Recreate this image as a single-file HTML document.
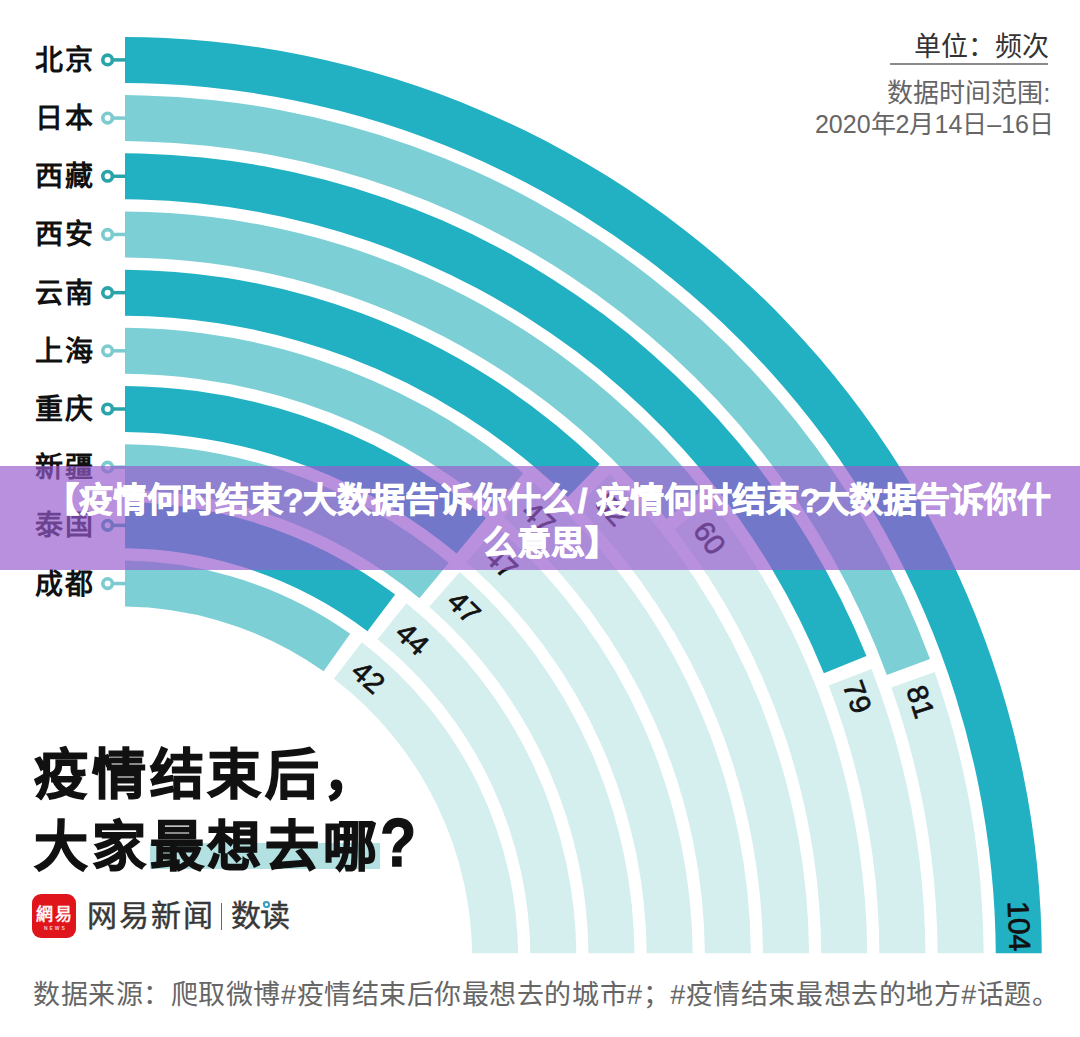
<!DOCTYPE html>
<html lang="zh-CN"><head><meta charset="utf-8">
<style>
html,body{margin:0;padding:0;background:#fff;}
body{width:1080px;height:1037px;position:relative;overflow:hidden;font-family:"Liberation Sans",sans-serif;}
svg{position:absolute;left:0;top:0;}
.num{font-family:"Liberation Sans",sans-serif;font-size:29px;fill:#111;dominant-baseline:central;stroke:#111;stroke-width:0.7px;}
.lab{font-family:"Liberation Sans",sans-serif;font-size:28px;font-weight:700;fill:#111;dominant-baseline:central;letter-spacing:2px;}
.unit{position:absolute;right:31.5px;top:29px;font-size:27px;color:#333;line-height:36px;white-space:nowrap;}
.uline{position:absolute;left:890px;width:158px;top:63px;height:2px;background:#8a8a8a;}
.range{position:absolute;font-size:26px;color:#666;line-height:33px;text-align:right;white-space:nowrap;}
.r1{right:29.5px;top:76.5px;}
.r2{right:26px;top:108px;font-size:25px;}
.title{position:absolute;left:34px;top:739px;font-size:54px;font-weight:900;color:#111;line-height:72px;letter-spacing:3.8px;white-space:nowrap;-webkit-text-stroke:1.3px #111;}
.q{font-size:69px;letter-spacing:0;line-height:0;display:inline-block;transform:scaleX(0.86);transform-origin:0 0;margin-left:-1px;}
.hl{position:absolute;left:149.5px;top:842.5px;width:230.5px;height:26.5px;background:#b3e0e0;}
.logo{position:absolute;left:32.4px;top:894px;width:44px;height:44px;border-radius:9px;background:#e0141b;overflow:hidden;}
.logo .c{position:absolute;left:1px;width:44px;top:11px;text-align:center;color:#fff5f5;font-size:17px;font-weight:700;line-height:20px;letter-spacing:2px;white-space:nowrap;}
.logo .n{position:absolute;left:1px;width:44px;top:31px;text-align:center;color:#f6c9c9;font-size:5px;font-weight:700;line-height:6px;letter-spacing:2px;white-space:nowrap;}
.brand{position:absolute;left:87px;top:895.5px;font-size:30px;color:#383838;line-height:40px;letter-spacing:2px;-webkit-text-stroke:0.45px #383838;white-space:nowrap;}
.sep{position:absolute;left:220.5px;top:903px;width:1.6px;height:27px;background:#666;}
.brand2{position:absolute;left:231px;top:895.5px;font-size:30px;color:#383838;line-height:40px;letter-spacing:-1px;-webkit-text-stroke:0.45px #383838;white-space:nowrap;}
.dot{position:absolute;left:262.5px;top:900.5px;width:7px;height:7px;border-radius:50%;background:#fff;border:2px solid #3a9fc8;box-sizing:border-box;}
.src{position:absolute;left:33px;top:975px;font-size:27px;letter-spacing:0.55px;color:#666;line-height:40px;white-space:nowrap;}
.banner{position:absolute;left:0;top:466px;width:1080px;height:104px;background:rgba(152,92,205,0.68);}
.btext{position:absolute;left:44.7px;top:478.5px;color:#fff;font-size:34px;font-weight:700;line-height:43px;white-space:nowrap;-webkit-text-stroke:0.8px #fff;}
.btext .l2{padding-left:438.7px;}
.sl{margin:0 8.5px 0 2.5px;}
.q2{margin-right:-5px;}
.cm{letter-spacing:-0.5px;}
</style></head><body>
<svg width="1080" height="1037" viewBox="0 0 1080 1037">
<defs><clipPath id="cp"><rect x="125" y="0" width="955" height="953.3"/></clipPath></defs>
<g clip-path="url(#cp)">
<path d="M71.97,38.16 A921.60,921.60 0 0 1 1041.80,958.31 L995.80,958.32 A875.60,875.60 0 0 0 74.37,84.10 Z" fill="#22b1c3"/>
<path d="M934.74,672.12 A863.42,863.42 0 0 1 983.49,973.57 L937.50,972.77 A817.42,817.42 0 0 0 891.35,687.38 Z" fill="#d5eeee"/>
<path d="M75.01,96.26 A863.42,863.42 0 0 1 930.00,658.98 L886.86,674.93 A817.42,817.42 0 0 0 77.42,142.20 Z" fill="#7dcfd6"/>
<path d="M871.62,669.06 A805.24,805.24 0 0 1 925.32,972.55 L879.32,971.75 A759.24,759.24 0 0 0 828.70,685.60 Z" fill="#d5eeee"/>
<path d="M78.06,154.36 A805.24,805.24 0 0 1 866.48,656.04 L823.85,673.32 A759.24,759.24 0 0 0 80.46,200.30 Z" fill="#22b1c3"/>
<path d="M710.94,501.20 A747.06,747.06 0 0 1 867.15,971.54 L821.15,970.74 A701.06,701.06 0 0 0 674.57,529.36 Z" fill="#d5eeee"/>
<path d="M81.10,212.46 A747.06,747.06 0 0 1 702.25,490.19 L666.41,519.02 A701.06,701.06 0 0 0 83.51,258.40 Z" fill="#7dcfd6"/>
<path d="M609.81,473.90 A688.88,688.88 0 0 1 808.98,970.52 L762.98,969.72 A642.88,642.88 0 0 0 577.11,506.26 Z" fill="#d5eeee"/>
<path d="M84.15,270.56 A688.88,688.88 0 0 1 599.81,464.00 L567.78,497.02 A642.88,642.88 0 0 0 86.55,316.50 Z" fill="#22b1c3"/>
<path d="M533.95,482.48 A630.70,630.70 0 0 1 750.80,969.51 L704.81,968.70 A584.70,584.70 0 0 0 503.77,517.20 Z" fill="#d5eeee"/>
<path d="M87.19,328.66 A630.70,630.70 0 0 1 523.19,473.34 L493.80,508.72 A584.70,584.70 0 0 0 89.60,374.60 Z" fill="#7dcfd6"/>
<path d="M496.80,527.28 A572.52,572.52 0 0 1 692.63,968.49 L646.64,967.69 A526.52,526.52 0 0 0 466.54,561.93 Z" fill="#d5eeee"/>
<path d="M90.24,386.76 A572.52,572.52 0 0 1 486.01,518.09 L456.62,553.48 A526.52,526.52 0 0 0 92.64,432.70 Z" fill="#22b1c3"/>
<path d="M459.66,572.09 A514.34,514.34 0 0 1 634.46,967.48 L588.47,966.67 A468.34,468.34 0 0 0 429.30,606.65 Z" fill="#d5eeee"/>
<path d="M93.28,444.86 A514.34,514.34 0 0 1 448.84,562.85 L419.45,598.23 A468.34,468.34 0 0 0 95.69,490.80 Z" fill="#7dcfd6"/>
<path d="M406.45,603.33 A456.16,456.16 0 0 1 576.29,966.46 L530.30,965.66 A410.16,410.16 0 0 0 377.58,639.15 Z" fill="#d5eeee"/>
<path d="M96.33,502.97 A456.16,456.16 0 0 1 395.16,594.52 L367.43,631.22 A410.16,410.16 0 0 0 98.73,548.90 Z" fill="#22b1c3"/>
<path d="M361.82,642.26 A397.98,397.98 0 0 1 518.12,965.45 L472.13,964.64 A351.98,351.98 0 0 0 333.90,678.81 Z" fill="#d5eeee"/>
<path d="M99.37,561.07 A397.98,397.98 0 0 1 350.20,633.71 L323.61,671.25 A351.98,351.98 0 0 0 101.78,607.00 Z" fill="#7dcfd6"/>
</g>
<text x="1019.22" y="926.16" transform="rotate(87.94 1019.22 926.16)" class="num" style="font-size:30px" text-anchor="middle">104</text>
<text x="920.41" y="701.64" transform="rotate(72.20 920.41 701.64)" class="num" text-anchor="middle">81</text>
<text x="857.41" y="696.93" transform="rotate(70.46 857.41 696.93)" class="num" text-anchor="middle">79</text>
<text x="709.58" y="537.91" transform="rotate(54.49 709.58 537.91)" class="num" text-anchor="middle">60</text>
<text x="611.65" y="509.20" transform="rotate(47.57 611.65 509.20)" class="num" text-anchor="middle">52</text>
<text x="538.55" y="517.72" transform="rotate(43.50 538.55 517.72)" class="num" text-anchor="middle">47</text>
<text x="501.28" y="562.58" transform="rotate(43.91 501.28 562.58)" class="num" text-anchor="middle">47</text>
<text x="463.98" y="607.46" transform="rotate(44.40 463.98 607.46)" class="num" text-anchor="middle">47</text>
<text x="412.49" y="638.83" transform="rotate(42.44 412.49 638.83)" class="num" text-anchor="middle">44</text>
<text x="368.26" y="677.29" transform="rotate(41.42 368.26 677.29)" class="num" text-anchor="middle">42</text>
<line x1="112" y1="59.91" x2="126" y2="59.91" stroke="#2aa3a9" stroke-width="3.5"/>
<circle cx="107.6" cy="59.91" r="4.8" fill="#fff" stroke="#2aa3a9" stroke-width="3.6"/>
<text x="35" y="60.41" class="lab" text-anchor="start">北京</text>
<line x1="112" y1="118.09" x2="126" y2="118.09" stroke="#7ccbd0" stroke-width="3.5"/>
<circle cx="107.6" cy="118.09" r="4.8" fill="#fff" stroke="#7ccbd0" stroke-width="3.6"/>
<text x="35" y="118.59" class="lab" text-anchor="start">日本</text>
<line x1="112" y1="176.27" x2="126" y2="176.27" stroke="#2aa3a9" stroke-width="3.5"/>
<circle cx="107.6" cy="176.27" r="4.8" fill="#fff" stroke="#2aa3a9" stroke-width="3.6"/>
<text x="35" y="176.77" class="lab" text-anchor="start">西藏</text>
<line x1="112" y1="234.46" x2="126" y2="234.46" stroke="#7ccbd0" stroke-width="3.5"/>
<circle cx="107.6" cy="234.46" r="4.8" fill="#fff" stroke="#7ccbd0" stroke-width="3.6"/>
<text x="35" y="234.96" class="lab" text-anchor="start">西安</text>
<line x1="112" y1="292.64" x2="126" y2="292.64" stroke="#2aa3a9" stroke-width="3.5"/>
<circle cx="107.6" cy="292.64" r="4.8" fill="#fff" stroke="#2aa3a9" stroke-width="3.6"/>
<text x="35" y="293.14" class="lab" text-anchor="start">云南</text>
<line x1="112" y1="350.82" x2="126" y2="350.82" stroke="#7ccbd0" stroke-width="3.5"/>
<circle cx="107.6" cy="350.82" r="4.8" fill="#fff" stroke="#7ccbd0" stroke-width="3.6"/>
<text x="35" y="351.32" class="lab" text-anchor="start">上海</text>
<line x1="112" y1="409.00" x2="126" y2="409.00" stroke="#2aa3a9" stroke-width="3.5"/>
<circle cx="107.6" cy="409.00" r="4.8" fill="#fff" stroke="#2aa3a9" stroke-width="3.6"/>
<text x="35" y="409.50" class="lab" text-anchor="start">重庆</text>
<line x1="112" y1="467.18" x2="126" y2="467.18" stroke="#7ccbd0" stroke-width="3.5"/>
<circle cx="107.6" cy="467.18" r="4.8" fill="#fff" stroke="#7ccbd0" stroke-width="3.6"/>
<text x="35" y="467.68" class="lab" text-anchor="start">新疆</text>
<line x1="112" y1="525.37" x2="126" y2="525.37" stroke="#2aa3a9" stroke-width="3.5"/>
<circle cx="107.6" cy="525.37" r="4.8" fill="#fff" stroke="#2aa3a9" stroke-width="3.6"/>
<text x="35" y="525.87" class="lab" text-anchor="start">泰国</text>
<line x1="112" y1="583.55" x2="126" y2="583.55" stroke="#7ccbd0" stroke-width="3.5"/>
<circle cx="107.6" cy="583.55" r="4.8" fill="#fff" stroke="#7ccbd0" stroke-width="3.6"/>
<text x="35" y="584.05" class="lab" text-anchor="start">成都</text>
</svg>
<div class="unit">单位：频次</div>
<div class="uline"></div>
<div class="range r1">数据时间范围:</div><div class="range r2">2020年2月14日–16日</div>
<div class="hl"></div>
<div class="title">疫情结束后，<br>大家最想去哪<span class="q">?</span></div>
<div class="logo"><div class="c">網易</div><div class="n">NEWS</div></div>
<div class="brand">网易新闻</div>
<div class="sep"></div>
<div class="brand2">数读</div>
<div class="dot"></div>
<div class="src">数据来源：爬取微博#疫情结束后你最想去的城市#；#疫情结束最想去的地方#话题。</div>
<div class="banner"></div>
<div class="btext">【疫情何时结束?大数据告诉你什么<span class="sl">/</span>疫情何时结束<span class="q2">?</span><span class="cm">大数据告诉你什</span><br><span class="l2">么意思】</span></div>
</body></html>
